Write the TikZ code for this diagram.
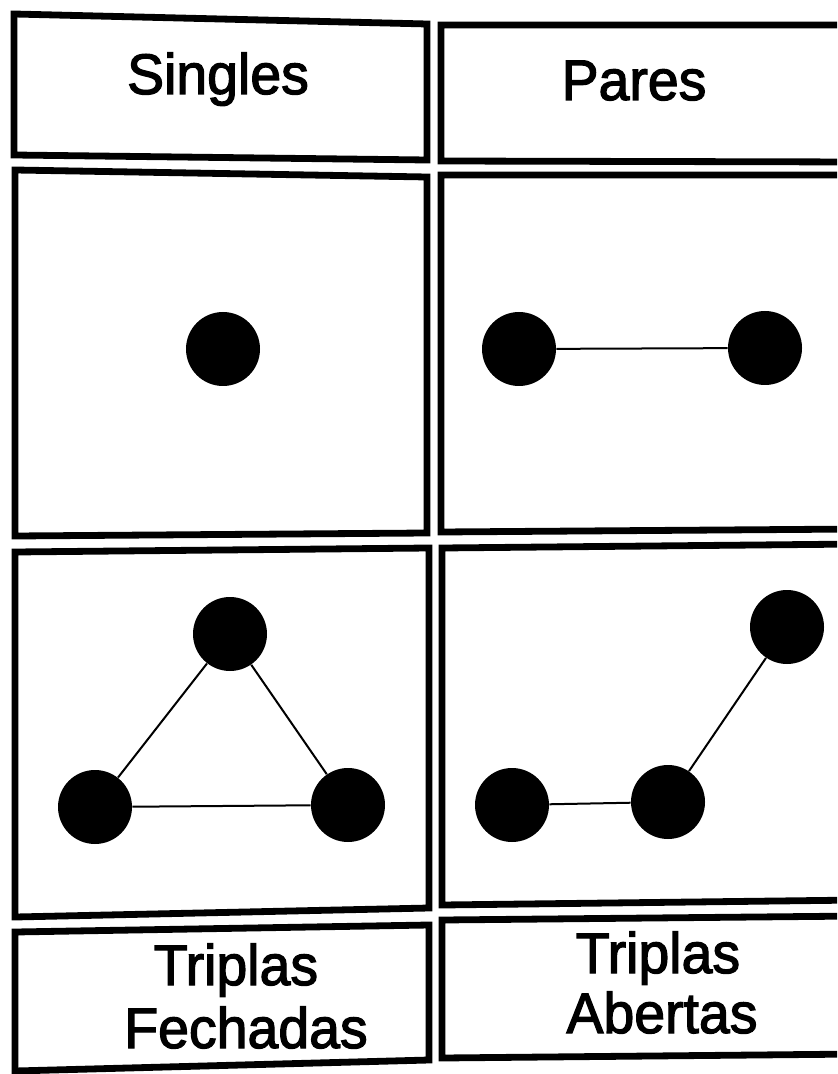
\documentclass[tikz,border=0pt]{standalone}
\usepackage{fontspec}
\setmainfont{Liberation Sans}
\newfontfamily\lblfont{Liberation Sans}[FakeBold=2.2]
\newcommand{\tallt}[1]{\scalebox{0.99}[1.02]{#1}}
\begin{document}
\begin{tikzpicture}[x=0.5pt,y=-0.5pt,
  box/.style={line width=3.4pt, line join=miter},
  dot/.style={circle, fill=black, minimum size=37pt, inner sep=0pt},
  link/.style={line width=1pt},
  lbl/.style={anchor=base, inner sep=0pt, font=\lblfont\fontsize{28}{32}\selectfont}]
\useasboundingbox (0,0) rectangle (837,1074);
\clip (0,0) rectangle (837,1074);
% header boxes
\draw[box] (14,14) -- (427,24) -- (427,160) -- (14,155) -- cycle;
\draw[box] (441,25) -- (860,25) -- (860,162) -- (441,161) -- cycle;
% graph boxes
\draw[box] (15,170) -- (427,177) -- (427,533) -- (15,536) -- cycle;
\draw[box] (441,175) -- (860,175) -- (860,529) -- (441,532) -- cycle;
\draw[box] (15,552) -- (429,548) -- (429,908) -- (15,917) -- cycle;
\draw[box] (442,548) -- (860,544) -- (860,900) -- (442,905) -- cycle;
% footer boxes
\draw[box] (15,932) -- (429,925) -- (429,1060) -- (15,1071) -- cycle;
\draw[box] (442,920) -- (860,916) -- (860,1054) -- (442,1058) -- cycle;
% labels
\node[lbl] (singles) at (218,94) {\tallt{Singles}};
\node[lbl] (pares) at (634,100) {\tallt{Pares}};
\node[lbl] (tf1) at (236,985) {\tallt{Triplas}};
\node[lbl] (tf2) at (246,1048) {\tallt{Fechadas}};
\node[lbl] (ta1) at (658,973) {\tallt{Triplas}};
\node[lbl] (ta2) at (662,1033) {\tallt{Abertas}};
% singles
\node[dot] (s1) at (223,349) {};
% pairs
\node[dot] (p1) at (519,349) {};
\node[dot] (p2) at (765,348) {};
\draw[link] (p1) -- (p2);
% closed triples
\node[dot] (c1) at (230,634) {};
\node[dot] (c2) at (95,807) {};
\node[dot] (c3) at (348,805) {};
\draw[link] (c1) -- (c2);
\draw[link] (c2) -- (c3);
\draw[link] (c3) -- (c1);
% open triples
\node[dot] (o1) at (512,805) {};
\node[dot] (o2) at (668,802) {};
\node[dot] (o3) at (787,627) {};
\draw[link] (o1) -- (o2);
\draw[link] (o2) -- (o3);
\end{tikzpicture}
\end{document}
